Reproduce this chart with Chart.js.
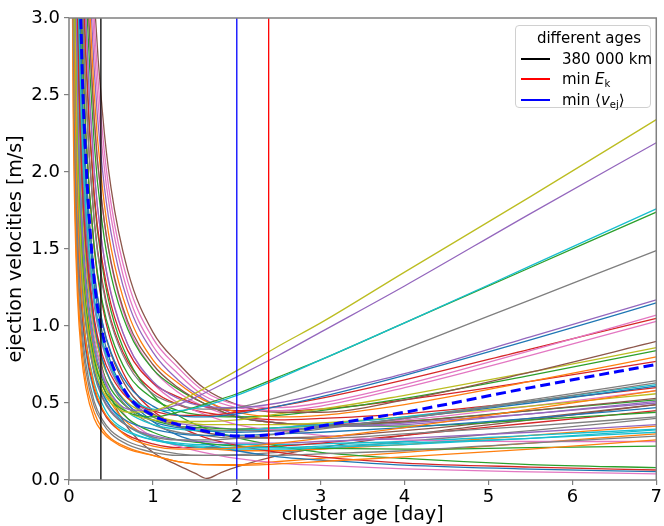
<!DOCTYPE html>
<html>
<head>
<meta charset="utf-8">
<script src="https://cdn.jsdelivr.net/npm/chart.js@4.4.0/dist/chart.umd.min.js"></script>
<style>
  body { margin: 0; background: #fff; }
  #wrap { position: relative; width: 664px; height: 526px; font-family: "DejaVu Sans", sans-serif; }
  #chart { position: absolute; left: 0; top: 0; }
  #legend { position: absolute; left: 515px; top: 25px; width: 136px; height: 83px; box-sizing: border-box;
            border: 1px solid #d0d0d0; border-radius: 4px; background: rgba(255,255,255,0.85); font-size: 15px; color: #000; }
  #legend .ttl { position: absolute; left: 0; width: 146px; top: 1px; height: 22px; line-height: 22px; text-align: center; }
  #legend .row { position: absolute; left: 0; height: 20px; line-height: 20px; white-space: nowrap; }
  #legend .sw { position: absolute; left: 5px; top: 9px; width: 29px; height: 1.5px; }
  #legend .txt { position: absolute; left: 46px; top: 0; }
  #legend sub { font-size: 10px; vertical-align: -3px; line-height: 0; }
</style>
</head>
<body>
<div id="wrap">
  <canvas id="chart" width="664" height="526"></canvas>
  <div id="legend"></div>
</div>
<script>
// cluster age grid (days) shared by the curves
const tDays = [0.03, 0.05, 0.07, 0.1, 0.15, 0.2, 0.3, 0.4, 0.5, 0.7, 1.0, 1.3, 1.6, 2.0, 2.5, 3.0, 4.0, 5.5, 7];

// ejection velocity curves [m/s], one row per fragment pair
const velocities = [
  [7.0, 4.2, 3.0, 2.11, 1.42, 1.08, 0.74, 0.58, 0.50, 0.44, 0.45, 0.51, 0.59, 0.71, 0.87, 1.02, 1.35, 1.84, 2.34],
  [8.33, 5.0, 3.57, 2.51, 1.68, 1.27, 0.86, 0.67, 0.56, 0.46, 0.45, 0.49, 0.56, 0.67, 0.81, 0.96, 1.26, 1.73, 2.19],
  [11.67, 7.0, 5.0, 3.50, 2.34, 1.76, 1.18, 0.89, 0.73, 0.55, 0.46, 0.45, 0.48, 0.55, 0.66, 0.78, 1.02, 1.39, 1.76],
  [7.33, 4.4, 3.15, 2.21, 1.49, 1.13, 0.78, 0.61, 0.52, 0.44, 0.41, 0.44, 0.49, 0.56, 0.67, 0.78, 1.02, 1.38, 1.74],
  [16.67, 10.0, 7.14, 5.0, 3.34, 2.51, 1.68, 1.26, 1.02, 0.75, 0.56, 0.49, 0.46, 0.47, 0.54, 0.63, 0.85, 1.17, 1.49],
  [20, 12, 8.57, 6.0, 4.0, 3.0, 2.01, 1.51, 1.21, 0.88, 0.64, 0.53, 0.48, 0.47, 0.50, 0.56, 0.69, 0.93, 1.17],
  [13.33, 8.0, 5.71, 4.0, 2.67, 2.01, 1.35, 1.02, 0.83, 0.62, 0.48, 0.42, 0.41, 0.43, 0.48, 0.54, 0.68, 0.91, 1.15],
  [30, 18, 12.86, 9.0, 6.0, 4.5, 3.0, 2.25, 1.80, 1.29, 0.92, 0.73, 0.58, 0.49, 0.47, 0.50, 0.62, 0.84, 1.07],
  [10, 6, 4.29, 3.02, 2.02, 1.53, 1.05, 0.81, 0.68, 0.53, 0.45, 0.42, 0.42, 0.44, 0.48, 0.53, 0.65, 0.85, 1.05],
  [28.33, 17, 12.14, 8.5, 5.67, 4.25, 2.84, 2.13, 1.71, 1.22, 0.87, 0.69, 0.55, 0.47, 0.45, 0.48, 0.60, 0.81, 1.03],
  [31.67, 19, 13.57, 9.5, 6.33, 4.75, 3.17, 2.38, 1.90, 1.36, 0.96, 0.76, 0.60, 0.49, 0.44, 0.44, 0.52, 0.70, 0.90],
  [7.34, 4.41, 3.16, 2.22, 1.50, 1.14, 0.79, 0.63, 0.54, 0.44, 0.39, 0.38, 0.38, 0.39, 0.43, 0.46, 0.55, 0.70, 0.86],
  [15, 9, 6.43, 4.51, 3.01, 2.26, 1.52, 1.15, 0.94, 0.69, 0.53, 0.45, 0.42, 0.41, 0.42, 0.45, 0.53, 0.68, 0.84],
  [25, 15, 10.71, 7.5, 5.0, 3.76, 2.51, 1.89, 1.51, 1.09, 0.78, 0.63, 0.52, 0.44, 0.41, 0.42, 0.49, 0.64, 0.80],
  [18.33, 11, 7.86, 5.51, 3.68, 2.77, 1.86, 1.41, 1.14, 0.84, 0.63, 0.54, 0.48, 0.45, 0.45, 0.46, 0.52, 0.64, 0.77],
  [6.67, 4.0, 2.87, 2.01, 1.35, 1.02, 0.69, 0.53, 0.44, 0.35, 0.28, 0.26, 0.26, 0.27, 0.30, 0.33, 0.40, 0.52, 0.645],
  [11.67, 7.0, 5.0, 3.51, 2.34, 1.76, 1.18, 0.90, 0.73, 0.54, 0.41, 0.35, 0.33, 0.32, 0.32, 0.34, 0.40, 0.51, 0.63],
  [8.34, 5.01, 3.58, 2.51, 1.69, 1.28, 0.87, 0.67, 0.56, 0.44, 0.36, 0.33, 0.32, 0.32, 0.34, 0.36, 0.41, 0.51, 0.62],
  [10, 6, 4.29, 3.01, 2.01, 1.52, 1.02, 0.78, 0.64, 0.49, 0.38, 0.34, 0.32, 0.31, 0.32, 0.34, 0.40, 0.50, 0.61],
  [6.0, 3.6, 2.57, 1.80, 1.20, 0.91, 0.61, 0.46, 0.38, 0.28, 0.22, 0.20, 0.20, 0.21, 0.24, 0.27, 0.34, 0.46, 0.58],
  [9.34, 5.61, 4.01, 2.82, 1.89, 1.43, 0.98, 0.76, 0.64, 0.50, 0.42, 0.38, 0.36, 0.36, 0.36, 0.37, 0.41, 0.48, 0.56],
  [23.33, 14, 10, 7.0, 4.67, 3.51, 2.35, 1.77, 1.42, 1.03, 0.75, 0.60, 0.50, 0.41, 0.37, 0.36, 0.38, 0.45, 0.53],
  [26.67, 16, 11.43, 8.0, 5.33, 4.0, 2.67, 2.01, 1.61, 1.16, 0.83, 0.65, 0.53, 0.42, 0.37, 0.35, 0.36, 0.43, 0.51],
  [6.67, 4.0, 2.87, 2.02, 1.36, 1.03, 0.71, 0.56, 0.47, 0.38, 0.33, 0.30, 0.29, 0.29, 0.30, 0.31, 0.34, 0.40, 0.47],
  [21.67, 13, 9.29, 6.51, 4.34, 3.26, 2.19, 1.65, 1.33, 0.98, 0.72, 0.59, 0.50, 0.41, 0.37, 0.35, 0.35, 0.39, 0.44],
  [10, 6, 4.29, 3.01, 2.01, 1.51, 1.02, 0.78, 0.63, 0.47, 0.36, 0.31, 0.29, 0.27, 0.27, 0.27, 0.30, 0.35, 0.41],
  [6.67, 4.0, 2.87, 2.01, 1.35, 1.02, 0.70, 0.54, 0.45, 0.35, 0.29, 0.26, 0.25, 0.24, 0.24, 0.25, 0.27, 0.31, 0.36],
  [7.33, 4.4, 3.15, 2.21, 1.47, 1.11, 0.75, 0.57, 0.47, 0.35, 0.27, 0.23, 0.21, 0.20, 0.20, 0.21, 0.23, 0.27, 0.325],
  [6.0, 3.6, 2.58, 1.81, 1.21, 0.92, 0.63, 0.49, 0.40, 0.32, 0.26, 0.23, 0.22, 0.21, 0.21, 0.22, 0.24, 0.27, 0.31],
  [5.0, 3.0, 2.15, 1.51, 1.01, 0.76, 0.51, 0.39, 0.32, 0.25, 0.20, 0.17, 0.16, 0.16, 0.16, 0.17, 0.19, 0.24, 0.285],
  [4.33, 2.6, 1.86, 1.30, 0.87, 0.65, 0.44, 0.33, 0.27, 0.21, 0.16, 0.12, 0.10, 0.095, 0.105, 0.12, 0.15, 0.20, 0.26],
  [20, 12, 8.57, 6.0, 4.0, 3.01, 2.01, 1.51, 1.22, 0.88, 0.63, 0.50, 0.43, 0.36, 0.32, 0.29, 0.26, 0.25, 0.25],
  [8.33, 5.0, 3.58, 2.51, 1.68, 1.26, 0.85, 0.65, 0.53, 0.40, 0.31, 0.26, 0.24, 0.22, 0.21, 0.205, 0.20, 0.21, 0.22],
  [18.33, 11, 7.86, 5.5, 3.67, 2.75, 1.83, 1.38, 1.10, 0.79, 0.55, 0.42, 0.34, 0.275, 0.22, 0.18, 0.14, 0.10, 0.08],
  [15, 9, 6.43, 4.5, 3.0, 2.25, 1.5, 1.13, 0.9, 0.64, 0.45, 0.35, 0.28, 0.225, 0.18, 0.15, 0.11, 0.084, 0.065],
  [12.67, 7.6, 5.43, 3.8, 2.53, 1.9, 1.27, 0.95, 0.76, 0.54, 0.38, 0.29, 0.24, 0.19, 0.15, 0.13, 0.097, 0.071, 0.054],
  [9.33, 5.6, 4.0, 2.8, 1.87, 1.4, 0.93, 0.7, 0.56, 0.4, 0.28, 0.22, 0.18, 0.14, 0.11, 0.095, 0.072, 0.053, 0.04],
  [16.67, 10, 7.15, 5.01, 3.35, 2.52, 1.69, 1.28, 1.04, 0.77, 0.58, 0.49, 0.44, 0.41, 0.39, 0.40, 0.43, 0.51, 0.60],
  [13.33, 8, 5.72, 4.0, 2.67, 2.01, 1.34, 1.01, 0.82, 0.59, 0.43, 0.35, 0.31, 0.28, 0.275, 0.28, 0.32, 0.40, 0.49],
  [23.33, 14, 10, 7.0, 4.67, 3.5, 2.34, 1.76, 1.41, 1.01, 0.72, 0.57, 0.48, 0.41, 0.37, 0.36, 0.39, 0.48, 0.58],
  [4.0, 2.4, 1.71, 1.20, 0.80, 0.60, 0.40, 0.31, 0.26, 0.20, 0.16, 0.12, 0.10, 0.10, 0.12, 0.14, 0.18, 0.24, 0.30],
  [5.67, 3.4, 2.43, 1.71, 1.14, 0.86, 0.59, 0.45, 0.37, 0.29, 0.235, 0.21, 0.21, 0.21, 0.22, 0.24, 0.29, 0.37, 0.45],
  [5.33, 3.2, 2.3, 1.61, 1.09, 0.83, 0.57, 0.45, 0.38, 0.31, 0.26, 0.24, 0.23, 0.23, 0.23, 0.235, 0.25, 0.29, 0.33],
  [8.67, 5.2, 3.73, 2.62, 1.76, 1.33, 0.91, 0.71, 0.59, 0.47, 0.39, 0.35, 0.34, 0.33, 0.34, 0.35, 0.38, 0.45, 0.52],
  [8.0, 4.8, 3.43, 2.40, 1.60, 1.21, 0.81, 0.61, 0.50, 0.37, 0.27, 0.23, 0.21, 0.19, 0.19, 0.20, 0.23, 0.29, 0.35],
  [11, 6.6, 4.72, 3.31, 2.22, 1.67, 1.13, 0.87, 0.71, 0.54, 0.43, 0.37, 0.35, 0.33, 0.33, 0.34, 0.37, 0.43, 0.50],
  [4.67, 2.8, 2.0, 1.40, 0.94, 0.71, 0.48, 0.37, 0.30, 0.23, 0.18, 0.16, 0.16, 0.165, 0.18, 0.20, 0.25, 0.32, 0.40]
];

const C = { blue: '#1f77b4', orange: '#ff7f0e', green: '#2ca02c', red: '#d62728', purple: '#9467bd',
            brown: '#8c564b', pink: '#e377c2', gray: '#7f7f7f', olive: '#bcbd22', cyan: '#17becf' };

const lineColors = [
  C.olive, C.purple, C.cyan, C.green, C.gray, C.purple, C.blue, C.pink, C.red, C.pink,
  C.brown, C.olive, C.green, C.orange, C.red, C.gray, C.gray, C.cyan, C.blue, C.orange,
  C.olive, C.brown, C.purple, C.blue, C.green, C.gray, C.purple, C.cyan, C.cyan, C.gray,
  C.orange, C.pink, C.green, C.green, C.red, C.blue, C.pink, C.red, C.brown, C.pink,
  C.orange, C.red, C.cyan, C.green, C.orange, C.purple, C.gray
];

// the curve that dips to ~0 near day 1.6 (own, denser grid)
const tDip = [0.05, 0.07, 0.1, 0.15, 0.2, 0.3, 0.4, 0.5, 0.7, 1.0, 1.3, 1.5, 1.64, 1.8, 2.0, 2.5, 3.0, 4.0, 5.5, 7];
const dipVelocity = [7.0, 5.0, 3.5, 2.25, 1.65, 1.03, 0.72, 0.54, 0.34, 0.18, 0.095, 0.045, 0.01, 0.045, 0.085, 0.16, 0.21, 0.29, 0.39, 0.49];

// mean ejection velocity (dashed)
const meanVelocity = [14, 8.4, 6.0, 4.2, 2.8, 2.1, 1.3, 0.95, 0.77, 0.55, 0.42, 0.36, 0.32, 0.285, 0.30, 0.35, 0.44, 0.60, 0.75];

// reference ages (vertical lines)
const vlineDays = [0.38, 2.38, 2.0];
const vlineColors = ['#000000', '#ff0000', '#0000ff'];
const vlineLabels = ['380 000 km', 'min <i>E</i><sub>k</sub>', 'min \u27e8<i>v</i><sub>ej</sub>\u27e9'];

const FONT = 'DejaVu Sans';

const datasets = [];
velocities.forEach((row, i) => {
  datasets.push({
    data: row.map((v, j) => ({ x: tDays[j], y: v })),
    borderColor: lineColors[i], borderWidth: 1.3, pointRadius: 0,
    cubicInterpolationMode: 'monotone', order: 3
  });
});
datasets.push({
  data: dipVelocity.map((v, j) => ({ x: tDip[j], y: v })),
  borderColor: C.brown, borderWidth: 1.3, pointRadius: 0,
  cubicInterpolationMode: 'monotone', order: 3
});
datasets.push({
  data: meanVelocity.map((v, j) => ({ x: tDays[j], y: v })),
  borderColor: '#0000ff', borderWidth: 3, borderDash: [10, 5], pointRadius: 0,
  cubicInterpolationMode: 'monotone', order: 2
});
vlineDays.forEach((d, i) => {
  datasets.push({
    data: [{ x: d, y: 0 }, { x: d, y: 3 }],
    borderColor: vlineColors[i], borderWidth: 1.3, pointRadius: 0, order: 1
  });
});

const frame = {
  id: 'frame',
  afterDatasetsDraw(chart) {
    const { ctx, chartArea: a } = chart;
    ctx.save();
    ctx.strokeStyle = '#808080';
    ctx.lineWidth = 1.5;
    ctx.strokeRect(a.left, a.top, a.right - a.left, a.bottom - a.top);
    ctx.restore();
  }
};

const tickGrid = { display: true, drawOnChartArea: false, drawTicks: true, tickLength: 5, color: '#808080', lineWidth: 1.2 };

new Chart(document.getElementById('chart').getContext('2d'), {
  type: 'line',
  data: { datasets },
  options: {
    responsive: false,
    animation: false,
    devicePixelRatio: 1,
    layout: { padding: { left: 0, right: 7, top: 18, bottom: 0 } },
    plugins: { legend: { display: false }, tooltip: { enabled: false } },
    scales: {
      x: {
        type: 'linear', min: 0, max: 7,
        ticks: { stepSize: 1, color: '#000', padding: 2, maxRotation: 0, font: { family: FONT, size: 18 } },
        grid: tickGrid,
        border: { display: false },
        title: { display: true, text: 'cluster age [day]', color: '#000', font: { family: FONT, size: 19 }, padding: { top: 0, bottom: 0 } },
        afterFit(s) { s.height = 46; }
      },
      y: {
        type: 'linear', min: 0, max: 3,
        ticks: { stepSize: 0.5, color: '#000', padding: 4, font: { family: FONT, size: 18 }, callback: v => v.toFixed(1) },
        grid: tickGrid,
        border: { display: false },
        title: { display: true, text: 'ejection velocities [m/s]', color: '#000', font: { family: FONT, size: 19 }, padding: { top: 5, bottom: 0 } },
        afterFit(s) { s.width = 69; }
      }
    }
  },
  plugins: [frame]
});

// legend box drawn as html over the plot
const legend = document.getElementById('legend');
let html = '<div class="ttl">different ages</div>';
const rowCenters = [33, 53, 74];
vlineLabels.forEach((lab, i) => {
  html += '<div class="row" style="top:' + (rowCenters[i] - 10) + 'px;width:100%">' +
          '<span class="sw" style="background:' + vlineColors[i] + '"></span>' +
          '<span class="txt">' + lab + '</span></div>';
});
legend.innerHTML = html;
</script>
</body>
</html>
